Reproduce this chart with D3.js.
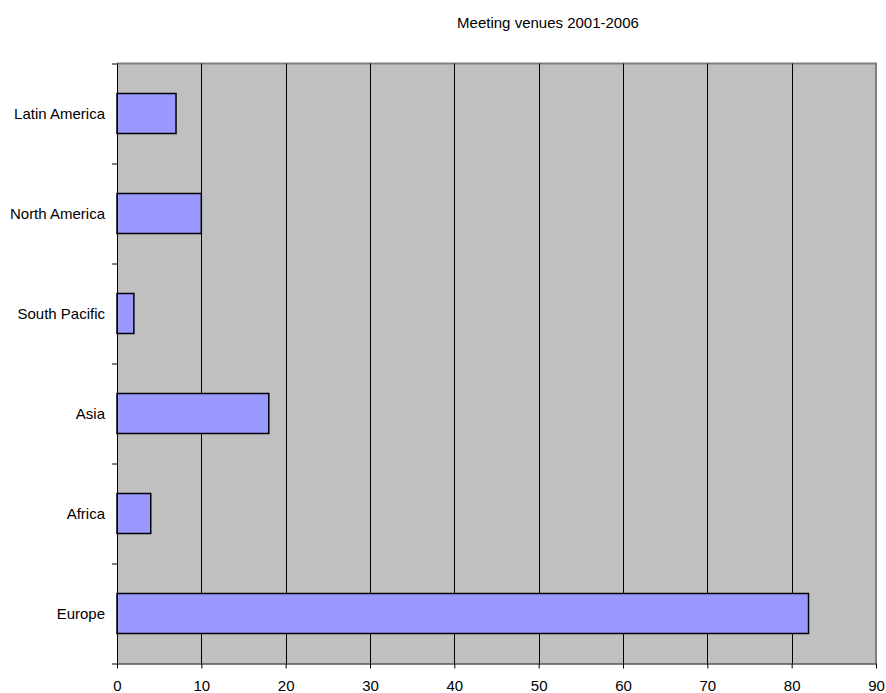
<!DOCTYPE html>
<html><head><meta charset="utf-8">
<script src="https://cdn.jsdelivr.net/npm/d3@7"></script>
<style>body{margin:0;background:#fff}svg{display:block}text{font-family:"Liberation Sans",Arial,sans-serif}</style>
</head><body>
<svg id="c" width="886" height="693"></svg>
<script>
const categories = ["Latin America","North America","South Pacific","Asia","Africa","Europe"];
const values = [7,10,2,18,4,82];
const xTicks = [0,10,20,30,40,50,60,70,80,90];
const title = "Meeting venues 2001-2006";

const svg = d3.select("#c");
const L=117, R=876, T=63.5, B=663.5;
const FS=15;
const x = d3.scaleLinear().domain([0,90]).range([L,R]);
const y = d3.scaleBand().domain(categories).range([T,B]).paddingInner(0.6).paddingOuter(0.3);
const yb = d3.scaleBand().domain(categories).range([T,B]);

svg.append("rect").attr("x",L).attr("y",T).attr("width",R-L).attr("height",B-T).attr("fill","#C0C0C0");
svg.append("path").attr("d",`M${L},${T}H${R}V${B}`).attr("fill","none").attr("stroke","#808080").attr("stroke-width",2);
svg.append("g").selectAll("line").data(xTicks.slice(1,-1)).join("line")
  .attr("x1",d=>Math.round(x(d))+0.5).attr("x2",d=>Math.round(x(d))+0.5).attr("y1",T).attr("y2",B)
  .attr("stroke","#000").attr("stroke-width",1);
svg.append("g").selectAll("rect").data(categories).join("rect")
  .attr("x",L).attr("y",d=>y(d)).attr("height",y.bandwidth())
  .attr("width",(d,i)=>x(values[i])-L)
  .attr("fill","#9999FF").attr("stroke","#000").attr("stroke-width",1.5);
const xa = svg.append("g").attr("transform",`translate(0,${B})`)
  .call(d3.axisBottom(x).tickValues(xTicks).tickSize(5).tickPadding(12).tickSizeOuter(0));
xa.select(".domain").attr("d",`M${L-5},0.5H${R}`).attr("stroke","#000");
xa.selectAll("text").attr("font-size",FS).attr("fill","#000").attr("font-family","Liberation Sans, Arial, sans-serif");
svg.append("line").attr("x1",L+0.5).attr("x2",L+0.5).attr("y1",T).attr("y2",B).attr("stroke","#000").attr("stroke-width",1);
svg.append("g").selectAll("line").data(categories).join("line")
  .attr("x1",L-5).attr("x2",L).attr("y1",d=>yb(d)+0.5).attr("y2",d=>yb(d)+0.5).attr("stroke","#000");
svg.append("g").selectAll("text").data(categories).join("text")
  .attr("x",L-12).attr("y",d=>yb(d)+yb.bandwidth()/2).attr("dy","0.35em")
  .attr("text-anchor","end").attr("font-size",FS).attr("fill","#000").text(d=>d);
svg.append("text").attr("x",548).attr("y",28).attr("text-anchor","middle").attr("font-size",FS).attr("fill","#000").text(title);
</script>
</body></html>
